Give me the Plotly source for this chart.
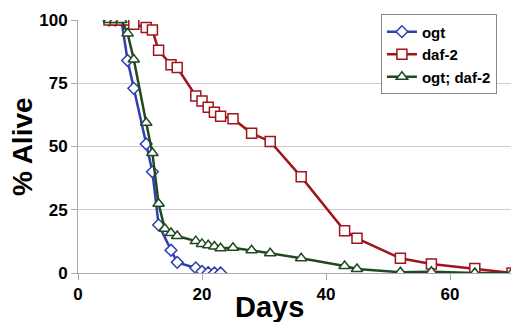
import plotly.graph_objects as go

ogt_days = [5, 6, 7, 8, 9, 11, 12, 13, 15, 16, 19, 20, 21, 22, 23]
ogt_alive = [100, 100, 100, 84, 73, 51, 40, 19, 9, 4.2, 2, 0.6, 0.1, 0, 0]

daf2_days = [5, 6, 7, 8, 9, 11, 12, 13, 15, 16, 19, 20, 21, 22, 23, 25, 28, 31, 36, 43, 45, 52, 57, 64, 70]
daf2_alive = [100, 100, 100, 100, 98.3, 97, 96, 88, 82.3, 81.2, 70, 68, 65.5, 63.5, 62, 61, 55.2, 52, 38, 16.7, 13.7, 5.8, 3.6, 1.8, 0]

dbl_days = [5, 6, 7, 8, 9, 11, 12, 13, 14, 15, 16, 19, 20, 21, 22, 23, 25, 28, 31, 36, 43, 45, 52, 57, 64, 70]
dbl_alive = [100, 100, 100, 94.7, 84.4, 59.4, 47.4, 27.4, 17.5, 15.8, 14.6, 12.6, 11.5, 11, 10.5, 9.8, 10, 9, 7.8, 5.8, 2.8, 1.6, 0.3, 0.5, 0, 0]

x_ticks = [0, 20, 40, 60]
y_ticks = [0, 25, 50, 75, 100]

BLUE = "#2f3fae"
RED = "#a0141c"
GREEN = "#1f4a20"

fig = go.Figure()
fig.add_trace(go.Scatter(
    x=ogt_days, y=ogt_alive, name="ogt", mode="lines+markers",
    line=dict(color=BLUE, width=2.5),
    marker=dict(symbol="diamond", size=9, color="white", line=dict(color=BLUE, width=1.5)),
))
fig.add_trace(go.Scatter(
    x=daf2_days, y=daf2_alive, name="daf-2", mode="lines+markers",
    line=dict(color=RED, width=2.5),
    marker=dict(symbol="square", size=10, color="white", line=dict(color=RED, width=1.5)),
))
fig.add_trace(go.Scatter(
    x=dbl_days, y=dbl_alive, name="ogt; daf-2", mode="lines+markers",
    line=dict(color=GREEN, width=2.5),
    marker=dict(symbol="triangle-up", size=10, color="white", line=dict(color=GREEN, width=1.5)),
))

# page body has an 8px default margin, so the figure is 8px smaller and margins shifted
fig.update_layout(
    width=511, height=314,
    margin=dict(l=70, r=7, t=12, b=49, autoexpand=False),
    paper_bgcolor="white", plot_bgcolor="white",
    font=dict(family="Liberation Sans, Arial, sans-serif", color="black"),
    showlegend=True,
    legend=dict(
        x=0.698, y=1.022, xanchor="left", yanchor="top",
        bgcolor="white", bordercolor="#888888", borderwidth=1,
        font=dict(size=15, family="Liberation Sans, Arial, sans-serif", weight="bold"),
        tracegroupgap=0, itemwidth=30,
    ),
    xaxis=dict(
        range=[0, 70], tickvals=x_ticks, ticktext=[str(v) for v in x_ticks],
        showgrid=False, zeroline=False, automargin=False,
        showline=True, linecolor="#aaaaaa", linewidth=1,
        ticks="outside", ticklen=6, tickcolor="#aaaaaa",
        tickfont=dict(size=17, weight="bold"),
    ),
    yaxis=dict(
        range=[0, 100], tickvals=y_ticks, ticktext=[str(v) for v in y_ticks],
        showgrid=True, gridcolor="#cccccc", gridwidth=1, zeroline=False, automargin=False,
        showline=True, linecolor="#aaaaaa", linewidth=1,
        ticks="outside", ticklen=6, tickcolor="#aaaaaa",
        tickfont=dict(size=17, weight="bold"),
    ),
    annotations=[
        dict(text="Days", xref="paper", yref="paper", x=(269 - 78) / 434, y=-(307 - 273) / 253,
             xanchor="center", yanchor="middle", showarrow=False,
             font=dict(size=29, weight="bold")),
        dict(text="% Alive", xref="paper", yref="paper", x=-(78 - 22) / 434, y=(273 - 147) / 253,
             xanchor="center", yanchor="middle", showarrow=False, textangle=-90,
             font=dict(size=28, weight="bold")),
    ],
)

fig.write_html("out.html")
